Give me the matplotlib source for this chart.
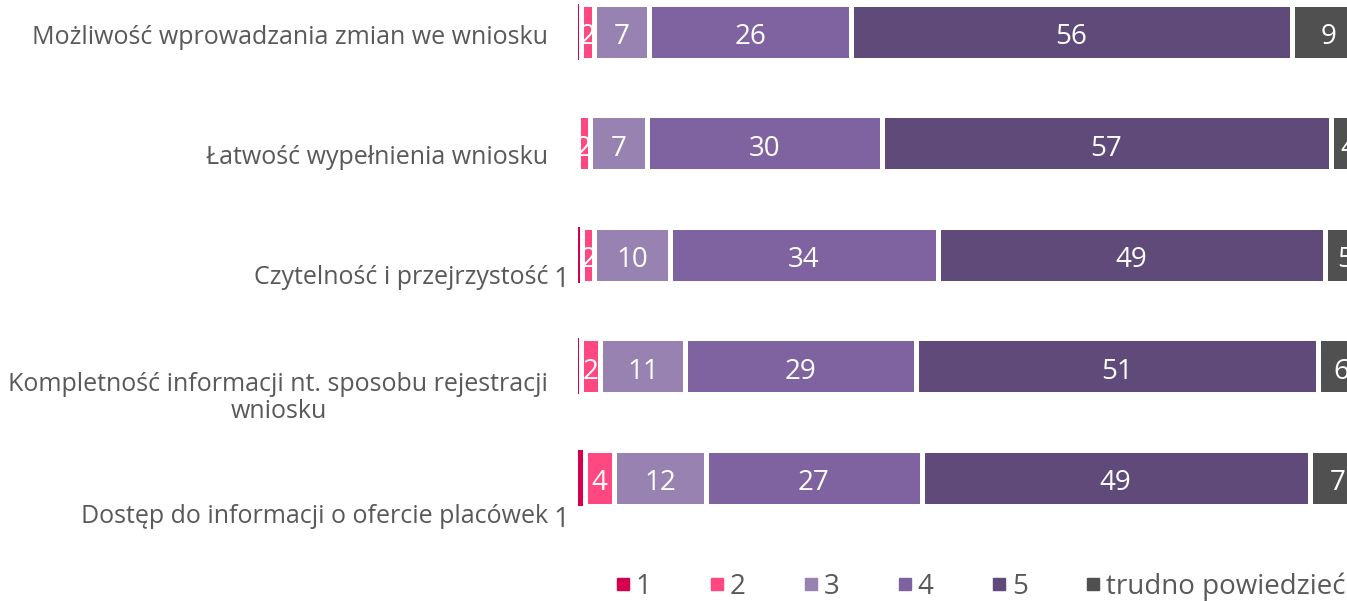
import matplotlib
matplotlib.use("Agg")
import matplotlib.pyplot as plt
from matplotlib.lines import Line2D
import numpy as np

plt.rcParams['font.family'] = ['Open Sans', 'DejaVu Sans']

categories = [
    "Możliwość wprowadzania zmian we wniosku",
    "Łatwość wypełnienia wniosku",
    "Czytelność i przejrzystość",
    "Kompletność informacji nt. sposobu rejestracji\nwniosku",
    "Dostęp do informacji o ofercie placówek",
]
series_names = ["1", "2", "3", "4", "5", "trudno powiedzieć"]
v1 = [0.5, 0.0, 0.6, 0.5, 0.9]
v2 = [1.6, 1.6, 1.5, 2.4, 3.7]
v3 = [7.0, 7.2, 9.7, 10.8, 11.7]
v4 = [25.6, 29.8, 33.9, 29.3, 27.4]
v5 = [56.0, 57.0, 49.1, 51.0, 49.2]
v6 = [9.3, 4.4, 5.2, 6.0, 7.1]
show_v1_label = [False, False, True, False, True]

colors = ["#D6004F", "#FF4882", "#9882B2", "#7F63A0", "#5F4A7A", "#505050"]
text_gray = "#595959"

W, H = 1347, 601
fig = plt.figure(figsize=(W / 100, H / 100), dpi=100)

x0_px = 577.5
scale_px = 7.88
bar_c0 = 31.7
bar_step = 111.5
ax_left = x0_px / W
ax_w = 100 * scale_px / W
ax_top_px = bar_c0 - bar_step / 2
ax_bot_px = bar_c0 + 4 * bar_step + bar_step / 2
ax = fig.add_axes([ax_left, (H - ax_bot_px) / H, ax_w, (ax_bot_px - ax_top_px) / H])

lab_c0 = 34.5
lab_step = 119.8
lt = lab_c0 - lab_step / 2
lb = lab_c0 + 4 * lab_step + lab_step / 2
axl = fig.add_axes([ax_left, (H - lb) / H, ax_w, (lb - lt) / H])

y = np.arange(len(categories))
data = [v1, v2, v3, v4, v5, v6]
left = np.zeros(len(categories))
height = 0.505
for k, vals in enumerate(data):
    vals = np.array(vals)
    if k == 0:
        ax.barh(y, vals, left=left, height=height, color=colors[k], linewidth=0, zorder=2)
    else:
        ax.barh(y, vals, left=left, height=height, color=colors[k],
                edgecolor="white", linewidth=3.6, zorder=2)
        for i, v in enumerate(vals):
            ax.annotate(f"{v:.0f}", xy=(left[i] + v / 2, y[i]), xytext=(0, -4),
                        textcoords="offset points", ha="center", va="center",
                        color="white", fontsize=20, zorder=3)
    left = left + vals

ax.set_xlim(0, 100)
ax.set_ylim(len(categories) - 0.5, -0.5)
ax.axis("off")

axl.set_xlim(0, 100)
axl.set_ylim(len(categories) - 0.5, -0.5)
axl.patch.set_visible(False)
for s in axl.spines.values():
    s.set_visible(False)
axl.set_xticks([])
axl.set_yticks(y)
axl.set_yticklabels(categories, fontsize=18, color=text_gray, multialignment="center",
                    linespacing=1.1)
axl.tick_params(axis="y", length=0, pad=21)

for i, v in enumerate(v1):
    if show_v1_label[i]:
        axl.annotate(f"{v:.0f}", xy=(0, y[i]), xytext=(-6, -4.5), textcoords="offset points",
                     ha="right", va="center", fontsize=20, color=text_gray)

handles = [Line2D([], [], marker="s", linestyle="none", markersize=9.2,
                  markerfacecolor=c, markeredgecolor=c) for c in colors]
fig.legend(handles, series_names, loc="center left",
           bbox_to_anchor=(612.8 / W, (H - 586.5) / H), ncol=6, frameon=False,
           fontsize=20, labelcolor=text_gray, handlelength=0.7, handletextpad=0.1,
           columnspacing=2.02, borderpad=0, borderaxespad=0)

fig.savefig("out.png", dpi=100)
